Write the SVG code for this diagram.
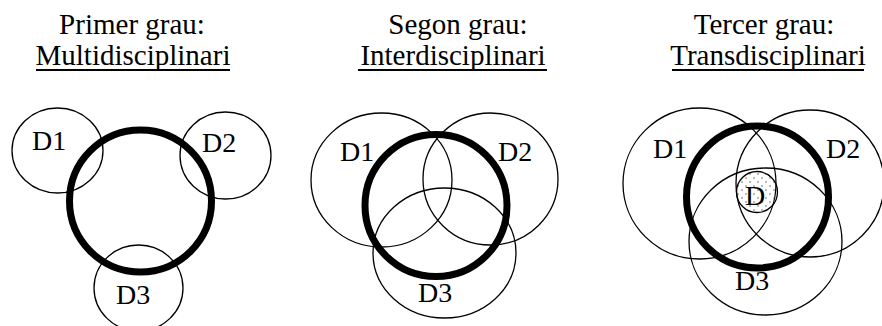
<svg xmlns="http://www.w3.org/2000/svg" width="882" height="326" viewBox="0 0 882 326">
  <style>
    .t { font-family: "Liberation Serif", "Times New Roman", serif; font-size: 29px; fill: #000; text-anchor: middle; }
    .lbl { font-family: "Liberation Serif", "Times New Roman", serif; font-size: 28px; fill: #000; }
    .thin { fill: none; stroke: #000; stroke-width: 1.3; }
    .thick { fill: none; stroke: #000; stroke-width: 7; }
    .ul { stroke: #000; stroke-width: 1.8; }
  </style>
  <defs>
    <pattern id="dots" x="0" y="0" width="8" height="8" patternUnits="userSpaceOnUse">
      <circle cx="2" cy="2" r="0.8" fill="#666"/>
      <circle cx="6" cy="6" r="0.8" fill="#666"/>
    </pattern>
  </defs>
  <rect width="882" height="326" fill="#fff"/>

  <!-- Panel 1 -->
  <g id="title1">
    <text class="t" x="132" y="34">Primer grau:</text>
    <text class="t" x="133" y="65">Multidisciplinari</text>
    <line class="ul" x1="36" y1="70" x2="230" y2="70"/>
  </g>
  <g id="p1-D1">
    <ellipse class="thin" cx="57.5" cy="150.5" rx="45.5" ry="42.5"/>
    <text class="lbl" x="32" y="150">D1</text>
  </g>
  <g id="p1-D2">
    <ellipse class="thin" cx="225.5" cy="155.5" rx="45.5" ry="43.5"/>
    <text class="lbl" x="202" y="152">D2</text>
  </g>
  <g id="p1-D3">
    <ellipse class="thin" cx="138.5" cy="288" rx="44.5" ry="43"/>
    <text class="lbl" x="116" y="304">D3</text>
  </g>
  <g id="p1-core">
    <circle class="thick" cx="140.5" cy="201" r="71"/>
  </g>

  <!-- Panel 2 -->
  <g id="title2">
    <text class="t" x="458" y="34">Segon grau:</text>
    <text class="t" x="453" y="65">Interdisciplinari</text>
    <line class="ul" x1="358" y1="70" x2="547" y2="70"/>
  </g>
  <g id="p2-D1">
    <ellipse class="thin" cx="381.5" cy="180" rx="70.5" ry="67"/>
    <text class="lbl" x="340" y="161">D1</text>
  </g>
  <g id="p2-D2">
    <ellipse class="thin" cx="490.5" cy="179" rx="67.5" ry="66"/>
    <text class="lbl" x="498" y="161">D2</text>
  </g>
  <g id="p2-D3">
    <ellipse class="thin" cx="444.5" cy="253" rx="71.5" ry="65"/>
    <text class="lbl" x="418" y="302">D3</text>
  </g>
  <g id="p2-core">
    <circle class="thick" cx="436" cy="205.5" r="71"/>
  </g>

  <!-- Panel 3 -->
  <g id="title3">
    <text class="t" x="764" y="34">Tercer grau:</text>
    <text class="t" x="768" y="65">Transdisciplinari</text>
    <line class="ul" x1="672" y1="70" x2="864" y2="70"/>
  </g>
  <g id="p3-D1">
    <ellipse class="thin" cx="699.5" cy="183.5" rx="76.5" ry="75.5"/>
    <text class="lbl" x="653" y="158">D1</text>
  </g>
  <g id="p3-D2">
    <ellipse class="thin" cx="810" cy="183.5" rx="74" ry="73.5"/>
    <text class="lbl" x="826" y="158">D2</text>
  </g>
  <g id="p3-D3">
    <ellipse class="thin" cx="765.5" cy="241.5" rx="76.5" ry="73.5"/>
    <text class="lbl" x="735" y="290">D3</text>
  </g>
  <g id="p3-core">
    <circle class="thick" cx="757.5" cy="197" r="71"/>
  </g>
  <g id="p3-D">
    <circle cx="757" cy="192" r="20.5" fill="url(#dots)" stroke="#000" stroke-width="1.3"/>
    <text class="lbl" x="755" y="205" text-anchor="middle">D</text>
  </g>
</svg>
